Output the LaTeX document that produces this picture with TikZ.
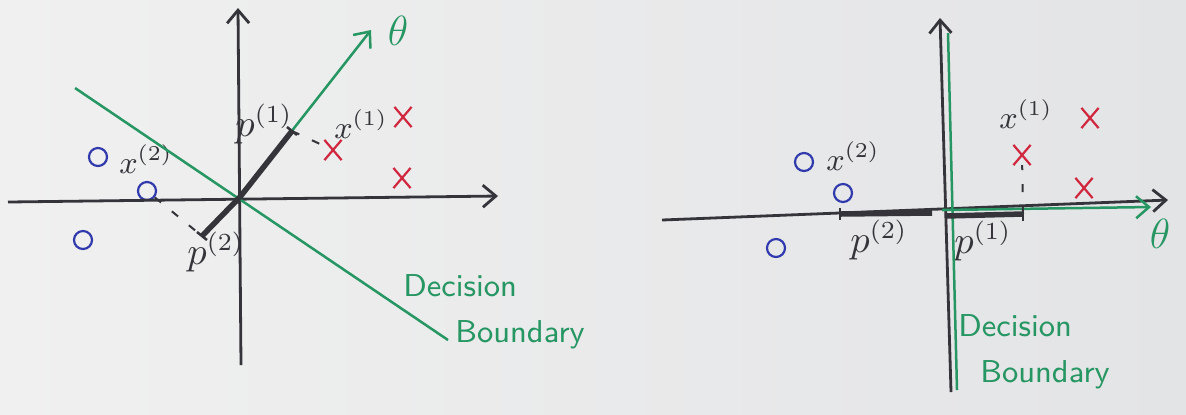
\documentclass[tikz,border=0pt]{standalone}
\usetikzlibrary{positioning, arrows.meta, shapes.misc}

\definecolor{paperL}{RGB}{240,240,240}
\definecolor{paperR}{RGB}{227,228,230}
\definecolor{ink}{RGB}{52,52,58}
\definecolor{inkgreen}{RGB}{38,150,98}
\definecolor{inkred}{RGB}{208,38,62}
\definecolor{inkblue}{RGB}{48,58,172}

\tikzset{
    axis/.style={ink, line width=0.28mm},
    bound/.style={inkgreen, line width=0.25mm},
    proj/.style={ink, line width=0.55mm},
    tick/.style={ink, line width=0.25mm},
    guide/.style={ink, line width=0.2mm, dash pattern=on 0.8mm off 1.4mm},
    negmark/.style={circle, draw=inkblue, line width=0.22mm, minimum size=1.8mm, inner sep=0pt},
    posmark/.style={cross out, draw=inkred, line width=0.22mm, minimum width=1.5mm, minimum height=1.8mm, inner sep=0pt},
    lbl/.style={text=ink, inner sep=0pt, font=\fontsize{9}{9}\selectfont},
    plbl/.style={text=ink, inner sep=0pt, font=\fontsize{10.5}{10.5}\selectfont},
    note/.style={text=inkgreen, inner sep=0pt, align=left, font=\sffamily\fontsize{9}{13}\selectfont},
    >={Straight Barb[length=1.3mm, width=2.2mm]},
}

\begin{document}
\begin{tikzpicture}[x=0.1mm, y=-0.1mm]
\shade[left color=paperL, right color=paperR] (0,0) rectangle (1186,414);
\useasboundingbox (0,0) rectangle (1186,414);

% left: slanted boundary
\coordinate (o1) at (240,197);
\coordinate (xl1) at (8,202);
\coordinate (xr1) at (498,196);
\coordinate (yb1) at (241,365);
\coordinate (yt1) at (238,8);
\coordinate (th1) at (371,30);
\coordinate (bd1) at (75,88);
\coordinate (bd2) at (448,340);
\coordinate (t1) at (292,131);
\coordinate (t2) at (202,236);

\node[negmark] (c1) at (98,157) {};
\node[negmark] (c2) at (147,191) {};
\node[negmark] (c3) at (83,240) {};
\node[posmark] (r1) at (333,150) {};
\node[posmark] (r2) at (403,117) {};
\node[posmark] (r3) at (402,178) {};

\node[lbl] (lx1) at (361,124) {$x^{(1)}$};
\node[lbl] (lx2) at (146,159) {$x^{(2)}$};
\node[plbl] (lp1) at (264,124) {$p^{(1)}$};
\node[plbl] (lp2) at (216,252) {$p^{(2)}$};
\node[text=inkgreen, inner sep=0pt, font=\fontsize{12}{12}\selectfont] (lth1) at (398,31) {$\theta$};
\node[note] (db1) at (494,312) {Decision\\\hspace*{5.2mm}Boundary};

\draw
    (xl1) edge[axis, ->] (xr1)
    (yb1) edge[axis, ->] (yt1)
    (bd1) edge[bound] (bd2)
    (o1) edge[bound, ->] (th1)
    (o1) edge[proj] (t1)
    (o1) edge[proj] (t2)
    (t1) edge[guide] (r1)
    (c2) edge[guide] (t2)
    ;
\draw[tick] (t1) ++(-5,-4) -- ++(10,8);
\draw[tick] (t2) ++(-5,-4) -- ++(10,8);

% right: boundary on the vertical axis
\coordinate (o2) at (942,210);
\coordinate (xl2) at (662,220);
\coordinate (xr2) at (1168,200);
\coordinate (yb2) at (951,392);
\coordinate (yt2) at (940,18);
\coordinate (gb1) at (948,33);
\coordinate (gb2) at (957,390);
\coordinate (th2) at (1151,207);
\coordinate (s2) at (840,214);
\coordinate (e2) at (932,213);
\coordinate (s1) at (945,216);
\coordinate (e1) at (1023,214);

\node[negmark] (c4) at (804,162) {};
\node[negmark] (c5) at (843,193) {};
\node[negmark] (c6) at (776,248) {};
\node[posmark] (r4) at (1022,155) {};
\node[posmark] (r5) at (1090,118) {};
\node[posmark] (r6) at (1084,188) {};

\node[lbl] (lx3) at (1026,114) {$x^{(1)}$};
\node[lbl] (lx4) at (853,156) {$x^{(2)}$};
\node[plbl] (lp3) at (983,241) {$p^{(1)}$};
\node[plbl] (lp4) at (879,240) {$p^{(2)}$};
\node[text=inkgreen, inner sep=0pt, font=\fontsize{12}{12}\selectfont] (lth2) at (1160,234) {$\theta$};
\node[note] (db2) at (1034,352) {Decision\\\hspace*{2.2mm}Boundary};

\draw
    (xl2) edge[axis, ->] (xr2)
    (yb2) edge[axis, ->] (yt2)
    (gb1) edge[bound] (gb2)
    (o2) edge[bound, ->] (th2)
    (s2) edge[proj] (e2)
    (s1) edge[proj] (e1)
    (e1) edge[guide] (r4)
    ;
\draw[tick] (s2) ++(0,-6) -- ++(0,12);
\draw[tick] (e1) ++(0,-7) -- ++(0,14);
\end{tikzpicture}
\end{document}
